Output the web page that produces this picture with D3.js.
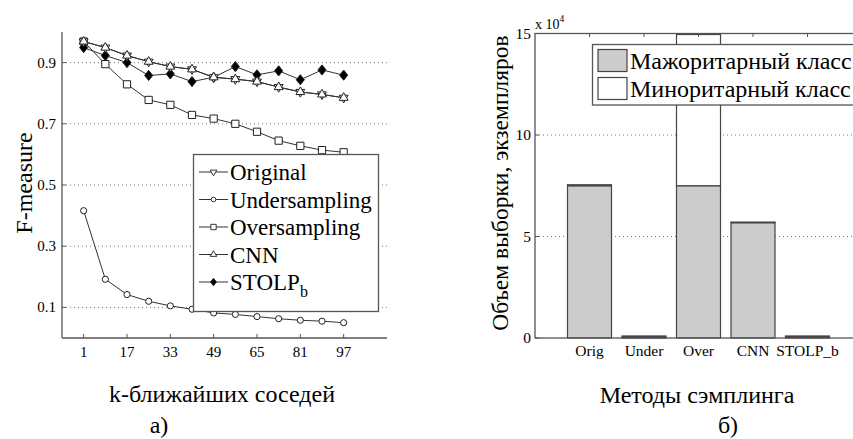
<!DOCTYPE html>
<html>
<head>
<meta charset="utf-8">
<script src="https://cdn.jsdelivr.net/npm/d3@7"></script>
<style>
  body { margin: 0; background: #fff; }
  svg text { font-family: "Liberation Serif", "Times New Roman", Times, "DejaVu Serif", serif; }
</style>
</head>
<body>
<svg id="chart" width="853" height="439"></svg>
<script>
// ---- left chart data: F-measure vs k ----
let kValues = [1, 9, 17, 25, 33, 41, 49, 57, 65, 73, 81, 89, 97];
let kTicks = [1, 17, 33, 49, 65, 81, 97];
let fTicks = [0.1, 0.3, 0.5, 0.7, 0.9];
let original = [0.969, 0.949, 0.923, 0.903, 0.887, 0.878, 0.852, 0.846, 0.838, 0.820, 0.804, 0.796, 0.785];
let undersampling = [0.416, 0.192, 0.142, 0.120, 0.105, 0.094, 0.082, 0.077, 0.070, 0.063, 0.058, 0.055, 0.050];
let oversampling = [0.969, 0.895, 0.829, 0.778, 0.762, 0.729, 0.717, 0.700, 0.674, 0.645, 0.628, 0.614, 0.607];
let cnn = [0.969, 0.949, 0.923, 0.903, 0.887, 0.878, 0.852, 0.846, 0.838, 0.820, 0.804, 0.796, 0.785];
let stolp = [0.949, 0.923, 0.900, 0.858, 0.863, 0.838, 0.852, 0.887, 0.860, 0.873, 0.844, 0.876, 0.859];
let seriesNames = ["Original", "Undersampling", "Oversampling", "CNN", "STOLP"];

// ---- right chart data: sample sizes (x 10^4) ----
let methods = ["Orig", "Under", "Over", "CNN", "STOLP_b"];
let majority = [7.5, 0.05, 7.5, 5.68, 0.05];
let minority = [0.05, 0.05, 7.45, 0.03, 0.05];
let sizeTicks = [0, 5, 10, 15];
let classNames = ["Мажоритарный класс", "Миноритарный класс"];

let svg = d3.select("#chart");
let ink = "#333";
let axisColor = "#555";

// matlab-like diamond, wider than d3's
let fatDiamond = {
  draw(ctx, size) {
    let h = Math.sqrt(size) / 1.55, w = h * 0.8;
    ctx.moveTo(0, -h); ctx.lineTo(w, 0); ctx.lineTo(0, h); ctx.lineTo(-w, 0); ctx.closePath();
  }
};

function drawLeft() {
  let x = d3.scaleLinear().domain([-7, 113]).range([62, 387]);
  let y = d3.scaleLinear().domain([0, 1]).range([338, 32]);
  let g = svg.append("g");

  // grid
  g.selectAll(".grid").data(fTicks).enter().append("line")
    .attr("x1", 62).attr("x2", 387)
    .attr("y1", d => y(d)).attr("y2", d => y(d))
    .attr("stroke", "#777").attr("stroke-width", 1)
    .attr("stroke-dasharray", "1,3");

  // axes
  g.append("line").attr("x1", 62).attr("x2", 62).attr("y1", 32).attr("y2", 338)
    .attr("stroke", axisColor).attr("stroke-width", 1.3);
  g.append("line").attr("x1", 62).attr("x2", 387).attr("y1", 338).attr("y2", 338)
    .attr("stroke", axisColor).attr("stroke-width", 1.3);

  g.selectAll(".xt").data(kTicks).enter().append("line")
    .attr("x1", d => x(d)).attr("x2", d => x(d))
    .attr("y1", 338).attr("y2", 334).attr("stroke", axisColor);
  g.selectAll(".yt").data(fTicks).enter().append("line")
    .attr("x1", 62).attr("x2", 66)
    .attr("y1", d => y(d)).attr("y2", d => y(d)).attr("stroke", axisColor);

  g.selectAll(".xl").data(kTicks).enter().append("text")
    .attr("x", d => x(d)).attr("y", 357)
    .attr("text-anchor", "middle").attr("font-size", 15)
    .text(d => d);
  g.selectAll(".yl").data(fTicks).enter().append("text")
    .attr("x", 56).attr("y", d => y(d) + 5)
    .attr("text-anchor", "end").attr("font-size", 15)
    .text(d => d.toFixed(1));

  g.append("text")
    .attr("transform", "translate(32,183) rotate(-90)")
    .attr("text-anchor", "middle").attr("font-size", 24)
    .text("F-measure");
  g.append("text").attr("x", 222).attr("y", 402)
    .attr("text-anchor", "middle").attr("font-size", 24)
    .text("k-ближайших соседей");
  g.append("text").attr("x", 159).attr("y", 433)
    .attr("text-anchor", "middle").attr("font-size", 24)
    .text("а)");

  let line = d3.line().x((d, i) => x(kValues[i])).y(d => y(d));
  let all = [original, undersampling, oversampling, cnn, stolp];

  all.forEach(vals => {
    g.append("path").datum(vals).attr("d", line)
      .attr("fill", "none").attr("stroke", ink).attr("stroke-width", 1);
  });

  let markers = [
    { sym: d3.symbolTriangle, size: 34, rot: 180, fill: "#fff" },
    { sym: d3.symbolCircle, size: 30, rot: 0, fill: "#fff" },
    { sym: d3.symbolSquare, size: 52, rot: 0, fill: "#fff" },
    { sym: d3.symbolTriangle, size: 34, rot: 0, fill: "#fff" },
    { sym: fatDiamond, size: 62, rot: 0, fill: "#000" }
  ];

  // draw in order: squares, circles, stolp, then original/cnn on top
  [2, 1, 4, 0, 3].forEach(si => {
    let m = markers[si];
    g.selectAll(".m" + si).data(all[si]).enter().append("path")
      .attr("d", d3.symbol().type(m.sym).size(m.size))
      .attr("transform", (d, i) => `translate(${x(kValues[i])},${y(d)}) rotate(${m.rot})`)
      .attr("fill", m.fill).attr("stroke", "#222").attr("stroke-width", 1);
  });

  // legend
  let lg = g.append("g");
  lg.append("rect").attr("x", 193.5).attr("y", 154.5).attr("width", 185).attr("height", 157)
    .attr("fill", "#fff").attr("stroke", axisColor).attr("stroke-width", 1.3);
  seriesNames.forEach((name, i) => {
    let cy = 172 + i * 27.5;
    let m = markers[i];
    lg.append("line").attr("x1", 199).attr("x2", 228).attr("y1", cy).attr("y2", cy)
      .attr("stroke", ink);
    lg.append("path")
      .attr("d", d3.symbol().type(m.sym).size(m.size * 0.55))
      .attr("transform", `translate(213.5,${cy}) rotate(${m.rot})`)
      .attr("fill", m.fill).attr("stroke", "#222").attr("stroke-width", 0.9);
    let t = lg.append("text").attr("x", 230).attr("y", cy + 8)
      .attr("font-size", 23).text(name);
    if (i === 4) {
      t.append("tspan").attr("dy", 7).attr("font-size", 16).text("b");
    }
  });
}

function drawRight() {
  let x = d3.scaleLinear().domain([0, 6]).range([535, 862]);
  let y = d3.scaleLinear().domain([0, 15]).range([338, 33.5]);
  let g = svg.append("g");

  g.selectAll(".grid").data([5, 10]).enter().append("line")
    .attr("x1", 535).attr("x2", 862)
    .attr("y1", d => y(d)).attr("y2", d => y(d))
    .attr("stroke", "#777").attr("stroke-width", 1)
    .attr("stroke-dasharray", "1,3");

  let bw = 44;
  let stacks = methods.map((m, i) => ({ m, i, maj: majority[i], min: minority[i] }));
  g.selectAll(".maj").data(stacks).enter().append("rect")
    .attr("x", d => x(d.i + 1) - bw / 2).attr("width", bw)
    .attr("y", d => y(d.maj)).attr("height", d => y(0) - y(d.maj))
    .attr("fill", "#cccccc").attr("stroke", "#444").attr("stroke-width", 1.2);
  g.selectAll(".min").data(stacks).enter().append("rect")
    .attr("x", d => x(d.i + 1) - bw / 2).attr("width", bw)
    .attr("y", d => y(d.maj + d.min)).attr("height", d => y(d.maj) - y(d.maj + d.min))
    .attr("fill", "#fff").attr("stroke", "#444").attr("stroke-width", 1.2);

  // box
  g.append("rect").attr("x", 535).attr("y", 33.5).attr("width", 327).attr("height", 304.5)
    .attr("fill", "none").attr("stroke", axisColor).attr("stroke-width", 1.3);

  g.selectAll(".tt").data(methods).enter().append("line")
    .attr("x1", (d, i) => x(i + 1)).attr("x2", (d, i) => x(i + 1))
    .attr("y1", 33.5).attr("y2", 37).attr("stroke", axisColor);
  g.selectAll(".yt").data(sizeTicks).enter().append("line")
    .attr("x1", 535).attr("x2", 539)
    .attr("y1", d => y(d)).attr("y2", d => y(d)).attr("stroke", axisColor);

  g.selectAll(".xl").data(methods).enter().append("text")
    .attr("x", (d, i) => x(i + 1)).attr("y", 356)
    .attr("text-anchor", "middle").attr("font-size", 15.5)
    .text(d => d);
  g.selectAll(".yl").data(sizeTicks).enter().append("text")
    .attr("x", 531).attr("y", d => y(d) + 5)
    .attr("text-anchor", "end").attr("font-size", 15.5)
    .text(d => d);

  let exp = g.append("text").attr("x", 535).attr("y", 29).attr("font-size", 14);
  exp.append("tspan").text("x 10");
  exp.append("tspan").attr("dy", -7).attr("font-size", 9.5).text("4");

  g.append("text")
    .attr("transform", "translate(508,183) rotate(-90)")
    .attr("text-anchor", "middle").attr("font-size", 23.5)
    .text("Объем выборки, экземпляров");
  g.append("text").attr("x", 697).attr("y", 403)
    .attr("text-anchor", "middle").attr("font-size", 24)
    .text("Методы сэмплинга");
  g.append("text").attr("x", 728).attr("y", 433)
    .attr("text-anchor", "middle").attr("font-size", 24)
    .text("б)");

  // legend
  let lg = g.append("g");
  lg.append("rect").attr("x", 592.5).attr("y", 44.5).attr("width", 270).attr("height", 60.5)
    .attr("fill", "#fff").attr("stroke", axisColor).attr("stroke-width", 1.3);
  let fills = ["#cccccc", "#fff"];
  classNames.forEach((name, i) => {
    let top = 49.5 + i * 28;
    lg.append("rect").attr("x", 598).attr("y", top).attr("width", 29).attr("height", 22)
      .attr("fill", fills[i]).attr("stroke", "#444").attr("stroke-width", 1.2);
    lg.append("text").attr("x", 630).attr("y", top + 19)
      .attr("font-size", 24).text(name);
  });
}

drawLeft();
drawRight();
</script>
</body>
</html>
